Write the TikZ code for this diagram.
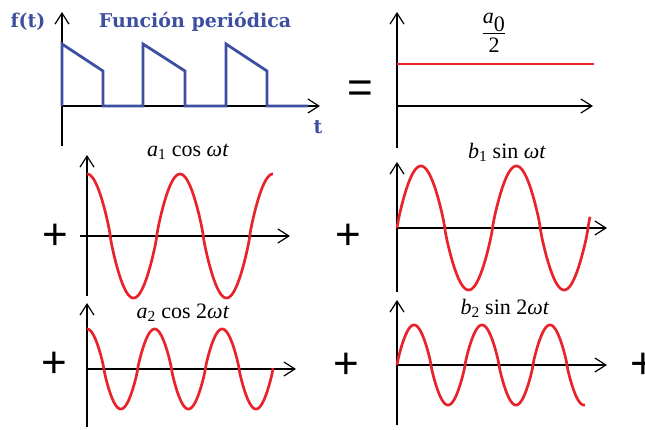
\documentclass[tikz,border=0pt]{standalone}
\usepackage{fontspec}
\setmainfont{Liberation Serif}
\newfontfamily\headfont{DejaVu Serif}
\newfontfamily\opfont{Liberation Sans}
\usetikzlibrary{arrows.meta}
\definecolor{fblue}{HTML}{3D4FA1}
\definecolor{wred} {HTML}{E8232B}

\begin{document}
\begin{tikzpicture}[x=1pt,y=-1pt,
    axis/.style={line width=1.2pt, -{Straight Barb[length=11pt,width=14pt,line width=1.2pt]}},
    wave/.style={wred, line width=2.7pt, line join=round},
    lbl/.style={font=\fontsize{22}{26}\selectfont, inner sep=0pt},
    head/.style={font=\headfont\bfseries\fontsize{19}{22}\selectfont, color=fblue, inner sep=0pt},
    op/.style={font=\opfont\fontsize{44}{48}\selectfont, inner sep=0pt},
    declare function={sq(\u)=sign(\u)*pow(abs(\u)+0.0001,0.85);}]
  \useasboundingbox (0,0) rectangle (645,429);
  % axes
  \draw[axis] (62,146) -- (62,12);
  \draw[axis] (62,106) -- (320,106);
  \draw[axis] (397,148) -- (397,12);
  \draw[axis] (397,106) -- (593,106);
  \draw[axis] (87,296) -- (87,155);
  \draw[axis] (80,236) -- (290,236);
  \draw[axis] (397,292) -- (397,162);
  \draw[axis] (397,228) -- (607,228);
  \draw[axis] (87,427) -- (87,303);
  \draw[axis] (87,369) -- (296,369);
  \draw[axis] (397,425) -- (397,300);
  \draw[axis] (397,365) -- (607,365);
  % periodic function
  \draw[fblue, line width=2.8pt] (62,106) -- (62,44) -- (103,71) -- (103,106) -- (143,106)
    -- (143,44) -- (185,71) -- (185,106) -- (226,106) -- (226,44) -- (267,71) -- (267,106) -- (308,106);
  \node[head] (ft) at (28,22) {f(t)};
  \node[head] (title) at (195,22) {Función periódica};
  \node[head] (tlabel) at (318,127) {t};
  % terms
  \draw[wave] (397,64) -- (594,64);
  \draw[wave] plot[domain=87:273, samples=240] (\x,{236-62*sq(cos((\x-87)/93*360))});
  \draw[wave] plot[domain=397:590, samples=240] (\x,{228-62*sq(sin((\x-397)/95.5*360))});
  \draw[wave] plot[domain=87:273, samples=240] (\x,{369-40*sq(cos((\x-87)/67.6*360))});
  \draw[wave] plot[domain=397:585, samples=240] (\x,{365-40*sq(sin((\x-397)/68*360))});
  \node[lbl] (azero) at (494,33) {$\displaystyle\frac{\textit{a}_{\textrm{0}}}{\textrm{2}}$};
  \node[lbl] (aone) at (188,152) {\textit{a}\textsubscript{1} cos \textit{ωt}};
  \node[lbl] (bone) at (507,152) {\textit{b}\textsubscript{1} sin \textit{ωt}};
  \node[lbl] (atwo) at (183,313) {\textit{a}\textsubscript{2} cos 2\textit{ωt}};
  \node[lbl] (btwo) at (505,308) {\textit{b}\textsubscript{2} sin 2\textit{ωt}};
  % operators
  \node[op] (eqsign) at (360,92) {=};
  \foreach \px/\py [count=\i] in {55/237, 348/237, 54/365, 346/366, 643/366}
    \node[op] (plus\i) at (\px,\py) {+};
\end{tikzpicture}
\end{document}
